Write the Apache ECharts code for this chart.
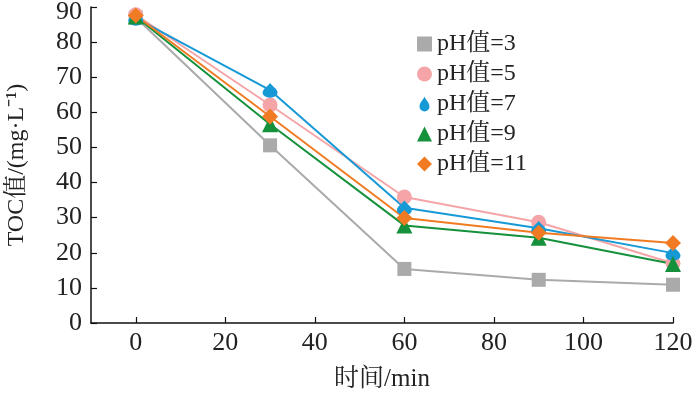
<!DOCTYPE html>
<html>
<head>
<meta charset="utf-8">
<script src="https://cdn.jsdelivr.net/npm/echarts@6/dist/echarts.min.js"></script>
<style>
  html, body { margin: 0; padding: 0; background: #fff; }
  #chart { width: 700px; height: 398px; }
</style>
</head>
<body>
<div id="chart"></div>
<script>
const times = [0, 30, 60, 90, 120]
const xTicks = [0, 20, 40, 60, 80, 100, 120]
const names = ['pH值=3', 'pH值=5', 'pH值=7', 'pH值=9', 'pH值=11']
const ph3 = [87, 50.6, 15.4, 12.3, 10.9]
const ph5 = [87.8, 62.1, 35.9, 28.7, 17]
const ph7 = [86.8, 66.3, 32.8, 27, 19.9]
const ph9 = [87.3, 56.6, 27.8, 24.3, 16.8]
const ph11 = [87.6, 58.8, 29.9, 25.7, 22.8]

const COLORS = ['#aaaaaa', '#f5a5a8', '#1799d6', '#15913c', '#f07b23']
const SYMBOLS = [
  'rect',
  'circle',
  'path://M5,0 C4,3 0,6 0,10 A5,5 0 0 0 10,10 C10,6 6,3 5,0 Z',
  'triangle',
  'diamond'
]
const SIZES = [14, 15, 15, 16, 16]
const FONT = '"Liberation Serif", "Times New Roman", "Noto Serif CJK SC", "Noto Sans CJK SC", serif'

const allData = [ph3, ph5, ph7, ph9, ph11]

const chart = echarts.init(document.getElementById('chart'))
chart.setOption({
  animation: false,
  color: COLORS,
  grid: { left: 91, right: 27, top: 7, bottom: 75, containLabel: false, outerBoundsMode: 'none' },
  legend: {
    orient: 'vertical',
    left: 412,
    top: 27,
    itemGap: 6,
    itemWidth: 15,
    itemHeight: 15,
    textStyle: { fontFamily: FONT, fontSize: 24, color: '#222' },
    data: names.map((n, i) => ({ name: n, icon: SYMBOLS[i] }))
  },
  xAxis: {
    type: 'value',
    min: -10,
    max: 120,
    name: '时间/min',
    nameLocation: 'middle',
    nameGap: 44,
    nameTextStyle: { fontFamily: FONT, fontSize: 25, color: '#222' },
    axisLine: { lineStyle: { color: '#111', width: 1.5 } },
    axisTick: { inside: true, length: 6, customValues: xTicks, lineStyle: { color: '#111', width: 1.2 } },
    axisLabel: { customValues: xTicks, fontFamily: FONT, fontSize: 26, color: '#222', margin: 7 },
    splitLine: { show: false }
  },
  yAxis: {
    type: 'value',
    min: 0,
    max: 90,
    interval: 10,
    name: 'TOC值/(mg·L⁻¹)',
    nameLocation: 'middle',
    nameGap: 62,
    nameTextStyle: { fontFamily: FONT, fontSize: 24, color: '#222' },
    axisLine: { show: true, onZero: false, lineStyle: { color: '#111', width: 1.5 } },
    axisTick: { show: true, inside: true, length: 6, lineStyle: { color: '#111', width: 1.2 } },
    axisLabel: {
      fontFamily: FONT, fontSize: 26, color: '#222', margin: 9,
      // top label sits a little lower in the original
      formatter: v => v === 90 ? '{top|' + v + '}' : String(v),
      rich: { top: { fontFamily: FONT, fontSize: 26, color: '#222', padding: [10, 0, 0, 0] } }
    },
    splitLine: { show: false }
  },
  series: allData.map((d, i) => ({
    name: names[i],
    type: 'line',
    data: d.map((v, j) => [times[j], v]),
    symbol: SYMBOLS[i],
    symbolSize: SIZES[i],
    lineStyle: { width: 2, color: COLORS[i] },
    itemStyle: { color: COLORS[i] }
  }))
})
</script>
</body>
</html>
